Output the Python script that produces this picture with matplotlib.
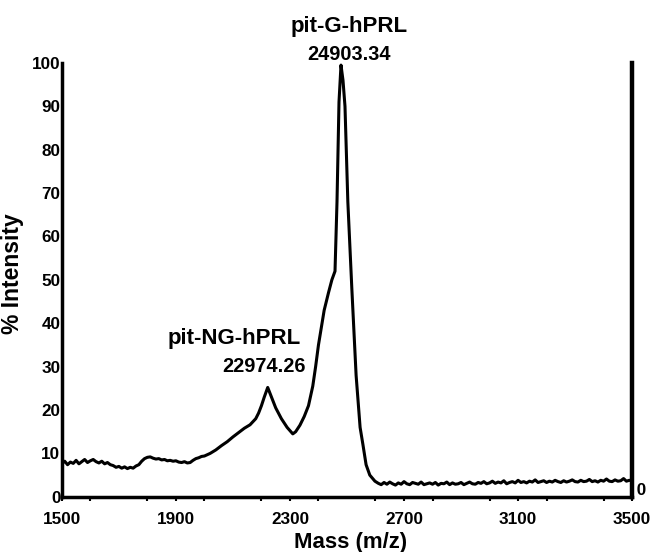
import matplotlib
matplotlib.use("Agg")
import matplotlib.pyplot as plt
from matplotlib.ticker import MultipleLocator

plt.rcParams['font.family'] = ['Liberation Sans', 'DejaVu Sans']

# Spectrum (mass m/z, % intensity)
mass_low = list(range(1500, 2010, 10))
int_low = [7.6, 8.2, 7.4, 8.0, 7.7, 8.4, 7.6, 8.1, 8.6, 7.9,
           8.3, 8.6, 8.1, 7.8, 8.2, 7.6, 7.9, 7.4, 7.2, 6.8,
           7.0, 6.6, 6.9, 6.5, 6.8, 6.6, 7.1, 7.4, 8.2, 8.8,
           9.1, 9.2, 8.9, 8.7, 8.8, 8.5, 8.6, 8.3, 8.4, 8.2,
           8.3, 8.0, 7.9, 8.1, 7.8, 7.9, 8.4, 8.8, 9.0, 9.3,
           9.4]
mass_mid = [2020, 2040, 2060, 2080, 2100, 2120, 2140, 2160, 2180, 2190,
            2200, 2210, 2222, 2235, 2250, 2270, 2290, 2310, 2320, 2335,
            2350, 2365, 2380, 2390, 2400, 2410, 2420, 2435, 2447, 2458,
            2465, 2472, 2479, 2486, 2493, 2503, 2517, 2532, 2546, 2556,
            2567, 2580, 2598, 2610]
int_mid = [10.0, 10.8, 11.8, 12.7, 13.8, 14.8, 15.8, 16.6, 18.0, 19.3,
           21.0, 23.0, 25.2, 23.0, 20.5, 18.0, 16.0, 14.5, 15.0, 16.5,
           18.5, 21.0, 25.5, 30.0, 35.0, 39.0, 43.0, 47.0, 50.0, 52.0,
           68.0, 91.0, 99.5, 96.0, 90.0, 68.0, 48.0, 28.0, 16.0, 12.0,
           7.4, 5.0, 3.6, 3.1]
mass_high = list(range(2620, 3510, 10))
int_high = [2.8, 3.3, 2.9, 3.4, 3.0, 2.7, 3.2, 2.9, 3.5, 3.0,
            2.8, 3.3, 3.1, 2.9, 3.4, 2.8, 3.0, 3.2, 2.9, 3.3,
            2.7, 3.1, 3.0, 3.4, 2.8, 3.2, 2.9, 3.0, 3.3, 2.8,
            3.1, 3.4, 3.0, 2.9, 3.3, 3.1, 3.5, 3.0, 3.2, 3.6,
            3.1, 3.4, 3.2, 3.7, 3.0, 3.3, 3.5, 3.2, 3.8, 3.3,
            3.5, 3.2, 3.6, 3.4, 3.9, 3.3, 3.5, 3.7, 3.3, 3.6,
            3.4, 3.8, 3.5, 3.3, 3.7, 3.4, 3.6, 3.9, 3.5, 3.4,
            3.8, 3.5, 3.6, 4.0, 3.5, 3.7, 3.4, 3.8, 3.6, 4.1,
            3.6, 3.5, 3.9, 3.6, 3.7, 4.2, 3.6, 3.8, 3.7]

mass = mass_low + mass_mid + mass_high
intensity = int_low + int_mid + int_high

x_ticks = [1500, 1900, 2300, 2700, 3100, 3500]
y_ticks = [0, 10, 20, 30, 40, 50, 60, 70, 80, 90, 100]

peak_labels = [("pit-G-hPRL", "24903.34"), ("pit-NG-hPRL", "22974.26")]

fig = plt.figure(figsize=(6.51, 5.52), dpi=100)
ax = fig.add_axes([0.095, 0.10, 0.876, 0.786])
ax.plot(mass, intensity, color='black', lw=2.2, solid_joinstyle='round')

ax.set_xlim(1500, 3500)
ax.set_ylim(0, 100)
ax.set_xticks(x_ticks)
ax.set_yticks(y_ticks)
ax.xaxis.set_minor_locator(MultipleLocator(200))
ax.tick_params(axis='x', which='both', direction='out', length=3, width=1.5, pad=8)
ax.tick_params(axis='y', length=0, pad=1)
for lab in ax.get_xticklabels() + ax.get_yticklabels():
    lab.set_fontsize(12.3)
    lab.set_fontweight('bold')

ax.spines['top'].set_visible(False)
ax.spines['left'].set_linewidth(2.5)
ax.spines['bottom'].set_linewidth(2.5)
ax.spines['right'].set_linewidth(3.2)

ax.set_xlabel("Mass (m/z)", fontsize=16, fontweight='bold')
ax.xaxis.set_label_coords(0.506, -0.08)
ax.set_ylabel("% Intensity", fontsize=16.5, fontweight='bold')
ax.yaxis.set_label_coords(-0.066, 0.515)

ax.text(3500, 1.5, " 0", fontsize=12.3, va='center', ha='left', fontweight='bold')

ax.text(2506, 108.4, peak_labels[0][0], fontsize=16, fontweight='bold', ha='center', va='center', clip_on=False)
ax.text(2506, 102.0, peak_labels[0][1], fontsize=14.4, fontweight='bold', ha='center', va='center', clip_on=False)
ax.text(2104, 36.4, peak_labels[1][0], fontsize=16, fontweight='bold', ha='center', va='center')
ax.text(2210, 30.0, peak_labels[1][1], fontsize=14.4, fontweight='bold', ha='center', va='center')

fig.savefig("out.png", dpi=100)
